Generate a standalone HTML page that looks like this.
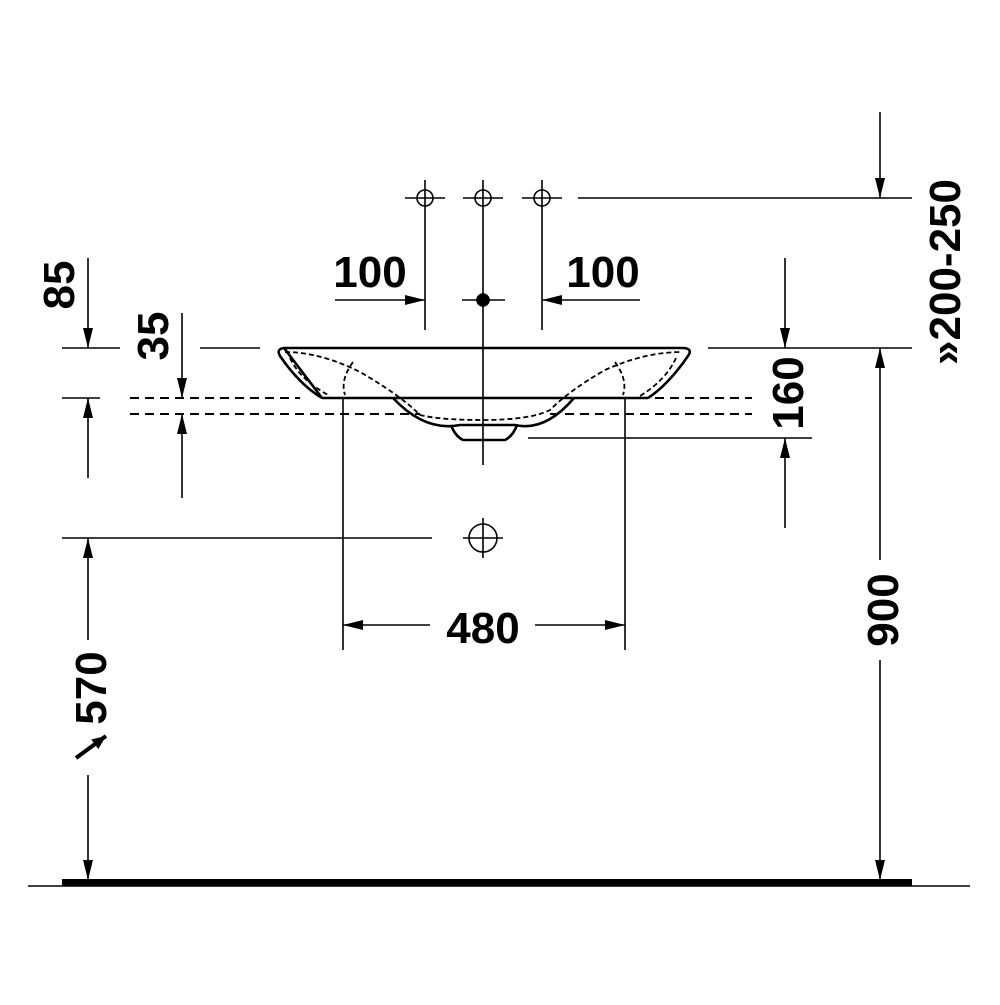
<!DOCTYPE html>
<html><head><style>body{margin:0;background:#fff}</style></head><body>
<svg width="1000" height="1000" viewBox="0 0 1000 1000" xmlns="http://www.w3.org/2000/svg">
<defs>
<marker id="a" viewBox="0 0 20 10" refX="20" refY="5" markerWidth="20" markerHeight="10" markerUnits="userSpaceOnUse" orient="auto"><path d="M0,0 L20,5 L0,10 Z" fill="#000"/></marker>
<marker id="b" viewBox="0 0 14 12" refX="14" refY="6" markerWidth="14" markerHeight="12" markerUnits="userSpaceOnUse" orient="auto"><path d="M0,0 L14,6 L0,12 Z" fill="#000"/></marker>
</defs>
<rect width="1000" height="1000" fill="#fff"/>
<g stroke="#000" stroke-width="1.6" fill="none">
<circle cx="425" cy="198" r="8"/><circle cx="483" cy="198" r="8"/><circle cx="542" cy="198" r="8"/>
<path d="M405 198H445M425 180V330M463 198H503M483 180V465M522 198H562M542 180V330"/>
<path d="M462 300H505"/>
<circle cx="483" cy="300" r="6" fill="#000"/>
<path d="M578 198H912"/>
<path d="M880 112V198" marker-end="url(#a)"/>
<path d="M335 300H425" marker-end="url(#a)"/>
<path d="M640 300H542" marker-end="url(#a)"/>
<path d="M62 348H120M200 348H260M708 348H912"/>
<path d="M62 398H100"/>
<path d="M130 398H300M640 398H752M130 414H420M550 414H752" stroke-dasharray="9 6" stroke-width="2"/>
<path d="M88 258V348" marker-end="url(#a)"/>
<path d="M88 478V398" marker-end="url(#a)"/>
<path d="M182 313V398" marker-end="url(#a)"/>
<path d="M182 498V414" marker-end="url(#a)"/>
<path d="M785 258V348" marker-end="url(#a)"/>
<path d="M785 528V438" marker-end="url(#a)"/>
<path d="M528 438H812"/>
<path d="M880 560V348" marker-end="url(#a)"/>
<path d="M880 660V880" marker-end="url(#a)"/>
<circle cx="483" cy="538" r="14"/>
<path d="M463 538H503M483 518V558M62 538H432"/>
<path d="M88 640V538" marker-end="url(#a)"/>
<path d="M88 775V880" marker-end="url(#a)"/>
<path d="M76 758L106 736" stroke-width="4" marker-end="url(#b)"/>
<path d="M343 398V650M625 398V650"/>
<path d="M430 625H343" marker-end="url(#a)"/>
<path d="M535 625H625" marker-end="url(#a)"/>
<path stroke-width="2.6" d="M284 348H684Q693 349 688 356Q668 385 648 398M322 398Q300 385 280 356Q276 349 284 348Z"/>
<path stroke-width="2.6" d="M322 398H648M393 398Q425 432 460 425L515 425Q545 432 574 398M451 425Q455 436 463 440H505Q513 436 517 425"/>
<path stroke-dasharray="5 3" stroke-width="1.8" d="M285 352Q320 352 360 372Q400 395 420 415Q440 420 483 420Q530 420 550 410Q570 390 605 370Q645 352 682 352M290 358Q300 380 330 396M353 362Q340 380 345 395M676 358Q666 380 640 396M615 362Q628 380 623 395"/>
</g>
<rect x="62" y="879" width="850" height="7" fill="#000"/>
<path d="M28 886H970" stroke="#000" stroke-width="1.6"/>
<g font-family="Liberation Sans, sans-serif" font-weight="bold" font-size="44" fill="#000" text-anchor="middle">
<text x="370" y="287">100</text>
<text x="603" y="287">100</text>
<text x="483" y="643">480</text>
<text transform="translate(74,285) rotate(-90)">85</text>
<text transform="translate(168,336) rotate(-90)">35</text>
<text transform="translate(803,393) rotate(-90)">160</text>
<text transform="translate(898,610) rotate(-90)">900</text>
<text transform="translate(106,688) rotate(-90)">570</text>
<text transform="translate(960,272) rotate(-90)">»200-250</text>
</g>
</svg>
</body></html>
